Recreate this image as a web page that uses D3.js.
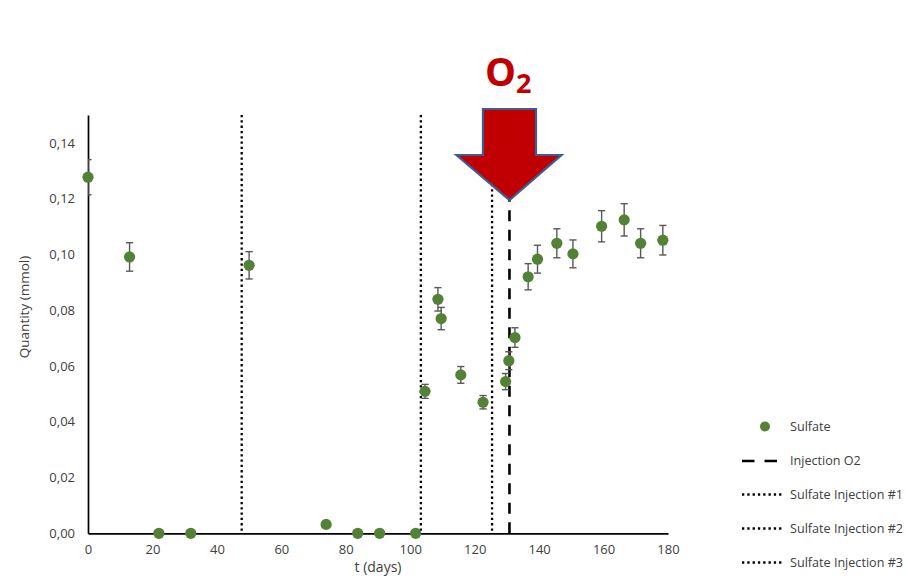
<!DOCTYPE html>
<html>
<head>
<meta charset="utf-8">
<script src="https://cdn.jsdelivr.net/npm/d3@7"></script>
<style>
  html, body { margin: 0; padding: 0; background: #fff; }
  svg { display: block; font-family: "Open Sans", "Liberation Sans", sans-serif; }
</style>
</head>
<body>
<svg id="chart" width="908" height="587"></svg>
<script>
// Sulfate quantity over time (days), with standard deviation
const days    = [0, 12.9, 22, 31.9, 50, 73.9, 83.7, 90.5, 101.7, 104.6, 108.6, 109.6, 115.7, 122.6, 129.6, 130.6, 132.5, 136.6, 139.5, 145.5, 150.5, 159.4, 166.4, 171.5, 178.4];
const sulfate = [0.1277, 0.0991, 0, 0, 0.0961, 0.0032, 0, 0, 0, 0.0509, 0.0839, 0.0770, 0.0568, 0.0470, 0.0544, 0.0619, 0.0702, 0.0920, 0.0983, 0.1040, 0.1002, 0.1101, 0.1124, 0.1040, 0.1051];
const errors  = [0.0063, 0.0051, 0, 0, 0.0049, 0, 0, 0, 0, 0.0025, 0.0042, 0.0040, 0.0030, 0.0024, 0.0029, 0.0032, 0.0035, 0.0047, 0.0050, 0.0052, 0.0050, 0.0056, 0.0058, 0.0052, 0.0053];

// Event days
const sulfateInjections = [47.7, 103.3, 125.4];
const o2Injection = 130.8;

// Axis ticks
const xTicks = [0, 20, 40, 60, 80, 100, 120, 140, 160, 180];
const yTicks = [0, 0.02, 0.04, 0.06, 0.08, 0.10, 0.12, 0.14];

// Legend entries
const legendLabels = ["Sulfate", "Injection O2", "Sulfate Injection #1", "Sulfate Injection #2", "Sulfate Injection #3"];

const svg = d3.select("#chart");
const green = "#538135";
const plotLeft = 88, plotRight = 668, plotTop = 115, plotBottom = 533.3;

const x = d3.scaleLinear().domain([0, 180]).range([plotLeft, plotRight]);
const y = d3.scaleLinear().domain([0, 0.15]).range([plotBottom, plotTop]);

const fmt = d3.formatLocale({decimal: ",", thousands: ".", grouping: [3], currency: ["", ""]}).format(".2f");

svg.append("defs").append("clipPath").attr("id", "plot")
  .append("rect").attr("x", plotLeft).attr("y", 0)
  .attr("width", plotRight - plotLeft + 20).attr("height", plotBottom + 10);

// Axes
const xAxis = svg.append("g").attr("transform", `translate(0,${plotBottom})`)
  .call(d3.axisBottom(x).tickValues(xTicks).tickSize(0).tickPadding(11).tickFormat(d3.format("d")));
const yAxis = svg.append("g").attr("transform", `translate(${plotLeft},0)`)
  .call(d3.axisLeft(y).tickValues(yTicks).tickSize(0).tickPadding(13).tickFormat(fmt));
[xAxis, yAxis].forEach(g => {
  g.select(".domain").attr("stroke", "#000").attr("stroke-width", 1.7);
  g.selectAll("text").attr("fill", "#404040").style("font-size", "13px").style("font-family", "'Open Sans', sans-serif");
});

// Axis titles
svg.append("text").attr("x", (plotLeft + plotRight) / 2).attr("y", 572)
  .attr("text-anchor", "middle").attr("fill", "#404040").style("font-size", "14px").text("t (days)");
svg.append("text").attr("transform", "translate(29,307) rotate(-90)")
  .attr("text-anchor", "middle").attr("fill", "#404040").style("font-size", "13.5px").text("Quantity (mmol)");

// Injection lines
const dotted = "2.3,3";
svg.append("g").selectAll("line").data(sulfateInjections).join("line")
  .attr("x1", d => x(d)).attr("x2", d => x(d))
  .attr("y1", plotTop).attr("y2", plotBottom)
  .attr("stroke", "#000").attr("stroke-width", 2.3).attr("stroke-dasharray", dotted);
svg.append("line")
  .attr("x1", x(o2Injection)).attr("x2", x(o2Injection))
  .attr("y1", plotBottom).attr("y2", plotTop)
  .attr("stroke", "#000").attr("stroke-width", 2.6).attr("stroke-dasharray", "11,8.5");

// Error bars
const data = days.map((d, i) => ({d, v: sulfate[i], e: errors[i]}));
const eb = svg.append("g").attr("clip-path", "url(#plot)")
  .attr("stroke", "#595959").attr("stroke-width", 1.4);
data.filter(p => p.e > 0).forEach(p => {
  const cx = x(p.d), y1 = y(p.v + p.e), y0 = y(p.v - p.e);
  eb.append("line").attr("x1", cx).attr("x2", cx).attr("y1", y1).attr("y2", y0);
  eb.append("line").attr("x1", cx - 3.6).attr("x2", cx + 3.6).attr("y1", y1).attr("y2", y1);
  eb.append("line").attr("x1", cx - 3.6).attr("x2", cx + 3.6).attr("y1", y0).attr("y2", y0);
});

// Points
svg.append("g").selectAll("circle").data(data).join("circle")
  .attr("cx", p => x(p.d)).attr("cy", p => y(p.v)).attr("r", 5.6)
  .attr("fill", green);

// O2 arrow pointing at the injection line
const tipX = x(o2Injection), tipY = 200;
const arrow = [
  [tipX - 26.5, 109], [tipX + 26.5, 109], [tipX + 26.5, 155], [tipX + 52, 155],
  [tipX, tipY], [tipX - 53, 155], [tipX - 26.5, 155]
];
svg.append("path").attr("d", d3.line()(arrow) + "Z")
  .attr("fill", "#C00000").attr("stroke", "#3B5C95").attr("stroke-width", 2.2)
  .attr("stroke-linejoin", "miter");

const o2 = svg.append("text").attr("x", tipX - 24.5).attr("y", 86)
  .attr("fill", "#C00000").style("font-weight", "bold")
  .style("font-family", "'Open Sans', sans-serif");
o2.append("tspan").style("font-size", "39px").text("O");
o2.append("tspan").attr("dy", 7).style("font-size", "27px").text("2");

// Legend
const lx = 742, ly = [426.5, 461, 494.5, 528.5, 562.5];
const lg = svg.append("g");
lg.append("circle").attr("cx", 765).attr("cy", ly[0]).attr("r", 5).attr("fill", green);
lg.append("line").attr("x1", lx).attr("x2", 779).attr("y1", ly[1]).attr("y2", ly[1])
  .attr("stroke", "#000").attr("stroke-width", 2.6).attr("stroke-dasharray", "12.5,10");
[2, 3, 4].forEach(i => {
  lg.append("line").attr("x1", lx).attr("x2", 784).attr("y1", ly[i]).attr("y2", ly[i])
    .attr("stroke", "#000").attr("stroke-width", 2.3).attr("stroke-dasharray", dotted);
});
lg.selectAll("text").data(legendLabels).join("text")
  .attr("x", 790).attr("y", (d, i) => ly[i]).attr("dy", "0.35em")
  .attr("fill", "#404040").style("font-size", "12.6px").text(d => d);
</script>
</body>
</html>
